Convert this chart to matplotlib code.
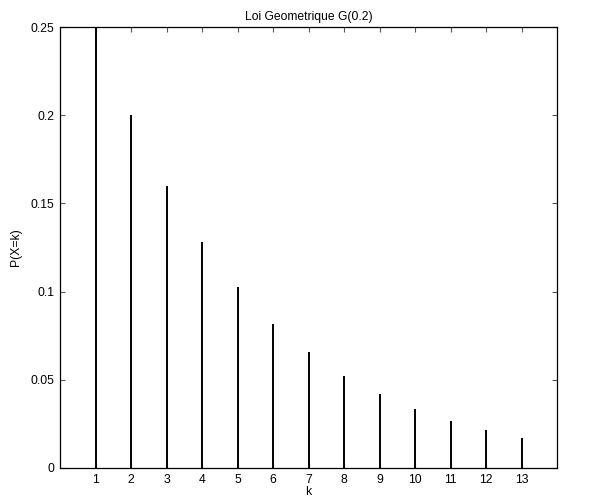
import matplotlib
matplotlib.use("Agg")
import matplotlib.pyplot as plt

# valeurs
k = [1, 2, 3, 4, 5, 6, 7, 8, 9, 10, 11, 12, 13]
p = [0.25, 0.2, 0.16, 0.128, 0.1024, 0.0819, 0.0655, 0.0524,
     0.0419, 0.0336, 0.0268, 0.0215, 0.0172]
yticks = [0, 0.05, 0.1, 0.15, 0.2, 0.25]
ylabels = ["0", "0.05", "0.1", "0.15", "0.2", "0.25"]

plt.rcParams['font.family'] = ['Liberation Sans', 'DejaVu Sans']

fig = plt.figure(figsize=(5.95, 5.03), dpi=100)
# position de l'axe en pixels
x0, x1, y0, y1 = 60, 557, 27, 468
ax = fig.add_axes([x0 / 595, 1 - y1 / 503, (x1 - x0) / 595, (y1 - y0) / 503])

ax.vlines(k, 0, p, colors='black', linewidth=1.4)

ax.set_xlim(0, 14)
ax.set_ylim(0, 0.25)
ax.set_xticks(k)
ax.set_yticks(yticks)
ax.set_yticklabels(ylabels)

ax.tick_params(direction='in', top=True, right=True, length=3.8,
               width=0.8, labelsize=8.7, color='#555555', pad=4)
for s in ax.spines.values():
    s.set_linewidth(0.9)

ax.set_title("Loi Geometrique G(0.2)", fontsize=8.7, pad=5)
ax.set_xlabel("k", fontsize=8.7, labelpad=0.5)
ax.set_ylabel("P(X=k)", fontsize=8.7, labelpad=6)

fig.savefig("out.png", dpi=100)
